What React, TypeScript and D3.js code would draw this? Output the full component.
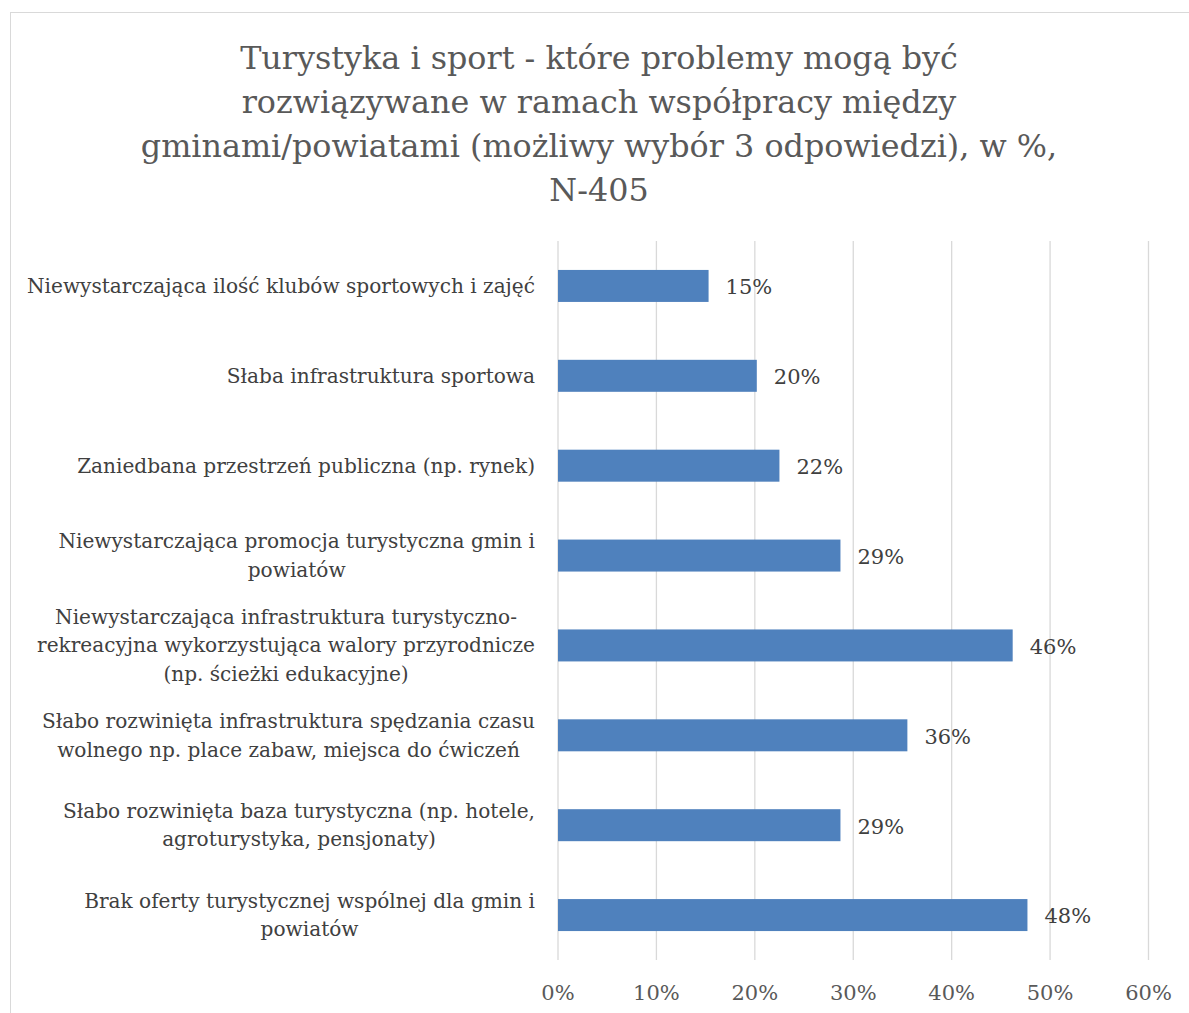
import React, { useEffect, useRef } from "react";
import * as d3 from "d3";

const titleLines = [
  "Turystyka i sport - które problemy mogą być",
  "rozwiązywane w ramach współpracy między",
  "gminami/powiatami (możliwy wybór 3 odpowiedzi), w %,",
  "N-405",
];

const categories = [
  ["Niewystarczająca ilość klubów sportowych i zajęć"],
  ["Słaba infrastruktura sportowa"],
  ["Zaniedbana przestrzeń publiczna (np. rynek)"],
  ["Niewystarczająca promocja turystyczna gmin i", "powiatów"],
  [
    "Niewystarczająca infrastruktura turystyczno-",
    "rekreacyjna wykorzystująca walory przyrodnicze",
    "(np. ścieżki edukacyjne)",
  ],
  ["Słabo rozwinięta infrastruktura spędzania czasu", "wolnego np. place zabaw, miejsca do ćwiczeń"],
  ["Słabo rozwinięta baza turystyczna (np. hotele,", "agroturystyka, pensjonaty)"],
  ["Brak oferty turystycznej wspólnej dla gmin i", "powiatów"],
];

const values = [15.3, 20.2, 22.5, 28.7, 46.2, 35.5, 28.7, 47.7];
const valueLabels = ["15%", "20%", "22%", "29%", "46%", "36%", "29%", "48%"];
const ticks = [0, 10, 20, 30, 40, 50, 60];

const FONT = "'DejaVu Serif', 'Liberation Serif', serif";

export default function App() {
  const ref = useRef<SVGSVGElement>(null);

  useEffect(() => {
    const svg = d3.select(ref.current);
    svg.selectAll("*").remove();

    const left = 558;
    const right = 1148.5;
    const top = 241;
    const bottom = 960;

    const x = d3.scaleLinear().domain([0, 60]).range([left, right]);
    const y = d3
      .scaleBand<number>()
      .domain(d3.range(categories.length))
      .range([top, bottom])
      .paddingInner(0.644)
      .paddingOuter(0.322);

    // border
    svg
      .append("rect")
      .attr("x", 10.5)
      .attr("y", 12.5)
      .attr("width", 1200)
      .attr("height", 1100)
      .attr("fill", "#fff")
      .attr("stroke", "#d9d9d9")
      .attr("stroke-width", 1);

    // title
    const title = svg
      .append("text")
      .attr("font-family", FONT)
      .attr("font-size", 31.8)
      .attr("fill", "#595959")
      .attr("text-anchor", "middle");
    titleLines.forEach((l, i) => {
      title
        .append("tspan")
        .attr("x", 599)
        .attr("y", 69 + i * 44)
        .text(l);
    });

    // gridlines
    svg
      .append("g")
      .selectAll("line")
      .data(ticks)
      .join("line")
      .attr("x1", (d) => x(d))
      .attr("x2", (d) => x(d))
      .attr("y1", top)
      .attr("y2", bottom)
      .attr("stroke", "#d9d9d9")
      .attr("stroke-width", 1.3);

    // tick labels
    svg
      .append("g")
      .selectAll("text")
      .data(ticks)
      .join("text")
      .attr("x", (d) => x(d))
      .attr("y", 1000)
      .attr("text-anchor", "middle")
      .attr("font-family", FONT)
      .attr("font-size", 21)
      .attr("fill", "#595959")
      .text((d) => `${d}%`);

    // bars
    svg
      .append("g")
      .selectAll("rect")
      .data(values)
      .join("rect")
      .attr("x", x(0))
      .attr("y", (_, i) => y(i)!)
      .attr("width", (d) => x(d) - x(0))
      .attr("height", y.bandwidth())
      .attr("fill", "#4f81bd");

    // value labels
    svg
      .append("g")
      .selectAll("text")
      .data(values)
      .join("text")
      .attr("x", (d) => x(d) + 17)
      .attr("y", (_, i) => y(i)! + y.bandwidth() / 2 + 1)
      .attr("dy", "0.35em")
      .attr("font-family", FONT)
      .attr("font-size", 21)
      .attr("fill", "#404040")
      .text((_, i) => valueLabels[i]);

    // category labels
    const lineH = 28.5;
    const cg = svg.append("g");
    categories.forEach((lines, i) => {
      const cy = y(i)! + y.bandwidth() / 2;
      const t = cg
        .append("text")
        .attr("font-family", FONT)
        .attr("font-size", 20.1)
        .attr("fill", "#404040")
        .attr("text-anchor", "middle");
      const spans = lines.map((l, j) =>
        t
          .append("tspan")
          .attr("y", cy + (j - (lines.length - 1) / 2) * lineH)
          .attr("dy", "0.35em")
          .text(l)
      );
      let maxW = 0;
      spans.forEach((s) => {
        const w = (s.node() as SVGTSpanElement).getComputedTextLength();
        if (w > maxW) maxW = w;
      });
      spans.forEach((s) => s.attr("x", 535 - maxW / 2));
    });
  }, []);

  return (
    <svg
      ref={ref}
      width={1189}
      height={1013}
      style={{ position: "absolute", left: 0, top: 0, background: "#fff" }}
    />
  );
}
